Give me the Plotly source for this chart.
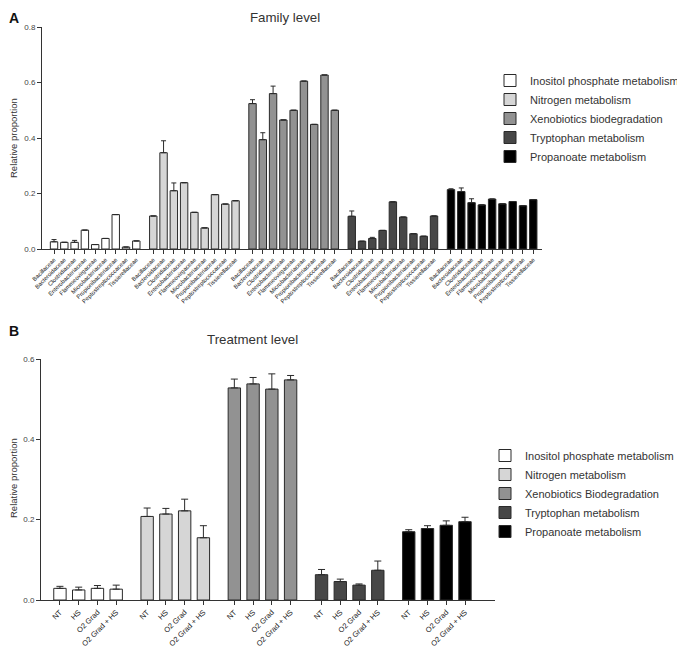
import plotly.graph_objects as go

# ---------------- data ----------------
families = ["Bacillaceae", "Bacteroidaceae", "Clostridiaceae", "Enterobacteriaceae",
            "Flammeovirgaceae", "Microbacteriaceae", "Propionibacteriaceae",
            "Peptostreptococcaceae", "Tissierellaceae"]
treatments = ["NT", "HS", "O2 Grad", "O2 Grad + HS"]

pathways_top = ["Inositol phosphate metabolism", "Nitrogen metabolism",
                "Xenobiotics biodegradation", "Tryptophan metabolism", "Propanoate metabolism"]
pathways_bottom = ["Inositol phosphate metabolism", "Nitrogen metabolism",
                   "Xenobiotics Biodegradation", "Tryptophan metabolism", "Propanoate metabolism"]

fam_inositol = [0.026, 0.024, 0.024, 0.068, 0.016, 0.038, 0.124, 0.007, 0.029]
fam_inositol_err = [0.008, 0, 0.007, 0, 0, 0, 0, 0, 0]
fam_nitrogen = [0.119, 0.347, 0.210, 0.239, 0.132, 0.076, 0.196, 0.162, 0.174]
fam_nitrogen_err = [0, 0.043, 0.028, 0, 0, 0, 0, 0, 0]
fam_xeno = [0.524, 0.394, 0.560, 0.465, 0.500, 0.605, 0.449, 0.627, 0.500]
fam_xeno_err = [0.014, 0.025, 0.027, 0, 0, 0, 0, 0, 0]
fam_trp = [0.118, 0.028, 0.038, 0.067, 0.170, 0.115, 0.055, 0.046, 0.119]
fam_trp_err = [0.019, 0, 0.004, 0, 0, 0, 0, 0, 0]
fam_prop = [0.214, 0.207, 0.167, 0.159, 0.180, 0.163, 0.171, 0.156, 0.178]
fam_prop_err = [0.003, 0.013, 0.014, 0, 0, 0, 0, 0, 0]

trt_inositol = [0.029, 0.025, 0.029, 0.027]
trt_inositol_err = [0.005, 0.007, 0.007, 0.010]
trt_nitrogen = [0.208, 0.214, 0.222, 0.155]
trt_nitrogen_err = [0.021, 0.014, 0.029, 0.030]
trt_xeno = [0.528, 0.538, 0.525, 0.548]
trt_xeno_err = [0.022, 0.016, 0.038, 0.011]
trt_trp = [0.063, 0.046, 0.037, 0.074]
trt_trp_err = [0.013, 0.006, 0.003, 0.023]
trt_prop = [0.170, 0.178, 0.186, 0.195]
trt_prop_err = [0.005, 0.007, 0.011, 0.011]

fam_values = [fam_inositol, fam_nitrogen, fam_xeno, fam_trp, fam_prop]
fam_errors = [fam_inositol_err, fam_nitrogen_err, fam_xeno_err, fam_trp_err, fam_prop_err]
trt_values = [trt_inositol, trt_nitrogen, trt_xeno, trt_trp, trt_prop]
trt_errors = [trt_inositol_err, trt_nitrogen_err, trt_xeno_err, trt_trp_err, trt_prop_err]

colors = ["#ffffff", "#d6d6d6", "#929292", "#474747", "#000000"]
edge = "#2a2a2a"
FONT = "Liberation Sans, Arial, sans-serif"

# page body has an 8px margin: figure is sized to fill the rest of the window
OFF = 8
W, H = 685 - OFF, 647 - OFF


def px(x):
    return (x - OFF) / W


def py(y):
    return 1 - (y - OFF) / H


fig = go.Figure()

# ---------- top panel ----------
gap = 0.65
top_tickvals, top_ticktext = [], []
for g, (name, vals, errs) in enumerate(zip(pathways_top, fam_values, fam_errors)):
    xs = [g * (len(families) + gap) + i for i in range(len(families))]
    top_tickvals += xs
    top_ticktext += families
    fig.add_trace(go.Bar(
        x=xs, y=vals, name=name, width=0.72,
        marker=dict(color=colors[g], line=dict(color=edge, width=1)),
        error_y=dict(type="data", array=errs, arrayminus=[0] * len(errs), symmetric=False,
                     color=edge, thickness=1, width=2.5),
        xaxis="x", yaxis="y", legend="legend", showlegend=True))

# ---------- bottom panel ----------
bot_tickvals, bot_ticktext = [], []
for g, (name, vals, errs) in enumerate(zip(pathways_bottom, trt_values, trt_errors)):
    xs = [g * (len(treatments) + gap) + i for i in range(len(treatments))]
    bot_tickvals += xs
    bot_ticktext += treatments
    fig.add_trace(go.Bar(
        x=xs, y=vals, name=name, width=0.66,
        marker=dict(color=colors[g], line=dict(color=edge, width=1)),
        error_y=dict(type="data", array=errs, arrayminus=[0] * len(errs), symmetric=False,
                     color=edge, thickness=1, width=3.5),
        xaxis="x2", yaxis="y2", legend="legend2", showlegend=True))

axis_common = dict(showgrid=False, zeroline=False, showline=True, linecolor="#333333",
                   linewidth=1, ticks="outside", ticklen=4, tickcolor="#333333", tickwidth=1,
                   automargin=False)

fig.update_layout(
    template="none",
    width=W, height=H,
    margin=dict(l=0, r=0, t=0, b=0, pad=0, autoexpand=False),
    paper_bgcolor="white", plot_bgcolor="white",
    font=dict(family=FONT, color="#333333"),
    barmode="overlay",
    xaxis=dict(domain=[px(42), px(542)], range=[-1.17, 47.45], anchor="y",
               tickmode="array", tickvals=top_tickvals, ticktext=top_ticktext,
               tickangle=-45, tickfont=dict(size=5.9, color="#222222"), **axis_common),
    yaxis=dict(domain=[py(249), py(27)], range=[0, 0.8], anchor="x",
               tickvals=[0, 0.2, 0.4, 0.6, 0.8], tickformat=".1f",
               tickfont=dict(size=8, color="#444444"), **axis_common),
    xaxis2=dict(domain=[px(41), px(495)], range=[-1.01, 23.2], anchor="y2",
                tickmode="array", tickvals=bot_tickvals, ticktext=bot_ticktext,
                tickangle=-45, tickfont=dict(size=7.5, color="#222222"), **axis_common),
    yaxis2=dict(domain=[py(600), py(359)], range=[0, 0.6], anchor="x2",
                tickvals=[0, 0.2, 0.4, 0.6], tickformat=".1f",
                tickfont=dict(size=8, color="#444444"), **axis_common),
    legend=dict(x=px(490), y=py(66), xanchor="left", yanchor="top",
                font=dict(size=11, color="#333333"), bgcolor="rgba(0,0,0,0)",
                tracegroupgap=0, borderwidth=0),
    legend2=dict(x=px(485), y=py(441), xanchor="left", yanchor="top",
                 font=dict(size=11, color="#333333"), bgcolor="rgba(0,0,0,0)",
                 tracegroupgap=0, borderwidth=0),
    annotations=[
        dict(text="<b>A</b>", x=px(7), y=1, xref="paper", yref="paper",
             xanchor="left", yanchor="top", showarrow=False,
             font=dict(size=14, color="#111111")),
        dict(text="<b>B</b>", x=px(7), y=py(330.5), xref="paper", yref="paper",
             xanchor="left", yanchor="middle", showarrow=False,
             font=dict(size=14, color="#111111")),
        dict(text="Family level", x=px(285), y=1, xref="paper", yref="paper",
             xanchor="center", yanchor="top", showarrow=False,
             font=dict(size=13.3, color="#333333")),
        dict(text="Treatment level", x=px(252), y=py(339), xref="paper", yref="paper",
             xanchor="center", yanchor="middle", showarrow=False,
             font=dict(size=13.3, color="#333333")),
        dict(text="Relative proportion", x=px(13), y=py(138), xref="paper", yref="paper",
             xanchor="center", yanchor="middle",
             textangle=-90, showarrow=False, font=dict(size=9.5, color="#333333")),
        dict(text="Relative proportion", x=px(13), y=py(478), xref="paper", yref="paper",
             xanchor="center", yanchor="middle",
             textangle=-90, showarrow=False, font=dict(size=9.5, color="#333333")),
    ],
)

fig.write_html("out.html")
